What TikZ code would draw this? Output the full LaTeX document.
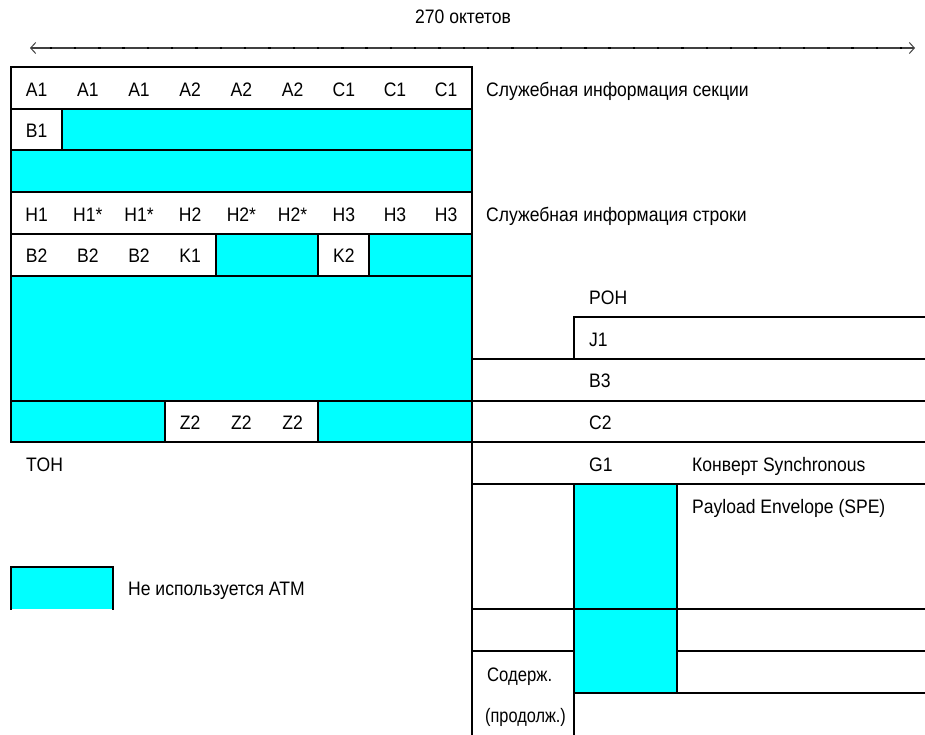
\documentclass[tikz,border=0pt]{standalone}
\usepackage{fontspec}
\setmainfont[FakeStretch=0.9]{Liberation Sans}
\usetikzlibrary{arrows.meta}
\definecolor{unused}{HTML}{00FFFF}
\begin{document}
\begin{tikzpicture}[x=1pt,y=-1pt,
  ln/.style={line width=2pt, line cap=rect},
  txt/.style={anchor=base, inner sep=0pt, font=\fontsize{19.5}{22}\selectfont},
  ltxt/.style={anchor=base west, inner sep=0pt, font=\fontsize{19.5}{22}\selectfont}]
\useasboundingbox (0,0) rectangle (925,734);
% grid points
\foreach \i in {0,...,13}
  \foreach \j in {0,...,16}
    \coordinate (p\i-\j) at ({11+51.2*\i},{67+41.7*\j});
\coordinate (R) at (925,0);
\coordinate (B) at (0,734);
% title and width arrow
\node[txt] (title) at (463,23) {270 октетов};
\coordinate (al) at (30,48);
\coordinate (ar) at (915,48);
\draw[line width=1.1pt, black!75, {Straight Barb[length=5pt,width=11pt,line width=1pt]}-{Straight Barb[length=5pt,width=11pt,line width=1pt]}] (al) -- (ar);
\foreach \k in {0,...,35}
  \draw[line width=1.5pt, black] ({50.7+24.3*\k-1.2},48) -- ({50.7+24.3*\k+1.2},48);
% unused (cyan) areas of TOH
\fill[unused] (p1-1) rectangle (p9-2);
\fill[unused] (p0-2) rectangle (p9-3);
\fill[unused] (p4-4) rectangle (p6-5);
\fill[unused] (p7-4) rectangle (p9-5);
\fill[unused] (p0-5) rectangle (p9-8);
\fill[unused] (p0-8) rectangle (p3-9);
\fill[unused] (p6-8) rectangle (p9-9);
% TOH grid lines
\draw[ln] (p0-0) rectangle (p9-9);
\foreach \j in {1,2,3,4,5,8}
  \draw[ln] (p0-\j) -- (p9-\j);
\draw[ln] (p1-1) -- (p1-2);
\draw[ln] (p4-4) -- (p4-5);
\draw[ln] (p6-4) -- (p6-5);
\draw[ln] (p7-4) -- (p7-5);
\draw[ln] (p3-8) -- (p3-9);
\draw[ln] (p6-8) -- (p6-9);
% SPE / POH lines
\draw[ln] (p11-7) -- (p11-6) -- (p11-6 -| R);
\foreach \j in {7,8,9,10,13}
  \draw[ln] (p9-\j) -- (p9-\j -| R);
\draw[ln] (p9-14) -- (p11-14);
\draw[ln] (p13-14) -- (p13-14 -| R);
\draw[ln] (p11-15) -- (p11-15 -| R);
\draw[ln] (p9-9) -- (p9-9 |- B);
\draw[ln] (p11-15) -- (p11-15 |- B);
\draw[ln, fill=unused] (p11-10) rectangle (p13-13);
\draw[ln, fill=unused] (p11-13) rectangle (p13-15);
% legend
\fill[unused] (p0-12) rectangle (p2-13);
\draw[ln] (p0-13) -- (p0-12) -- (p2-12) -- (p2-13);
\node[ltxt] (legend) at (128,595) {Не используется ATM};
% cell texts
\foreach \t [count=\n from 0] in {A1,A1,A1,A2,A2,A2,C1,C1,C1}
  \node[txt] (a\n) at ({36.6+51.2*\n},96) {\t};
\node[txt] (b1) at (36.6,137.7) {B1};
\foreach \t [count=\n from 0] in {H1,H1*,H1*,H2,H2*,H2*,H3,H3,H3}
  \node[txt] (h\n) at ({36.6+51.2*\n},221) {\t};
\foreach \t [count=\n from 0] in {B2,B2,B2,K1}
  \node[txt] (k\n) at ({36.6+51.2*\n},262.7) {\t};
\node[txt] (k2) at ({36.6+51.2*6},262.7) {K2};
\foreach \n in {3,4,5}
  \node[txt] (z\n) at ({36.6+51.2*\n},429) {Z2};
\node[ltxt] (soh) at (486,96) {Служебная информация секции};
\node[ltxt] (loh) at (486,221) {Служебная информация строки};
\node[ltxt] (toh) at (26,471) {TOH};
% POH column
\node[ltxt] (poh) at (589,304) {POH};
\node[ltxt] (j1) at (589,346) {J1};
\node[ltxt] (b3) at (589,387.5) {B3};
\node[ltxt] (c2) at (589,429) {C2};
\node[ltxt] (g1) at (589,471) {G1};
\node[ltxt] (spe1) at (692,471) {Конверт Synchronous};
\node[ltxt] (spe2) at (692,513) {Payload Envelope (SPE)};
\node[ltxt] (cont1) at (487,681) {\scalebox{0.95}[1]{Содерж.}};
\node[ltxt] (cont2) at (485,722) {\scalebox{0.93}[1]{(продолж.)}};
\end{tikzpicture}
\end{document}
